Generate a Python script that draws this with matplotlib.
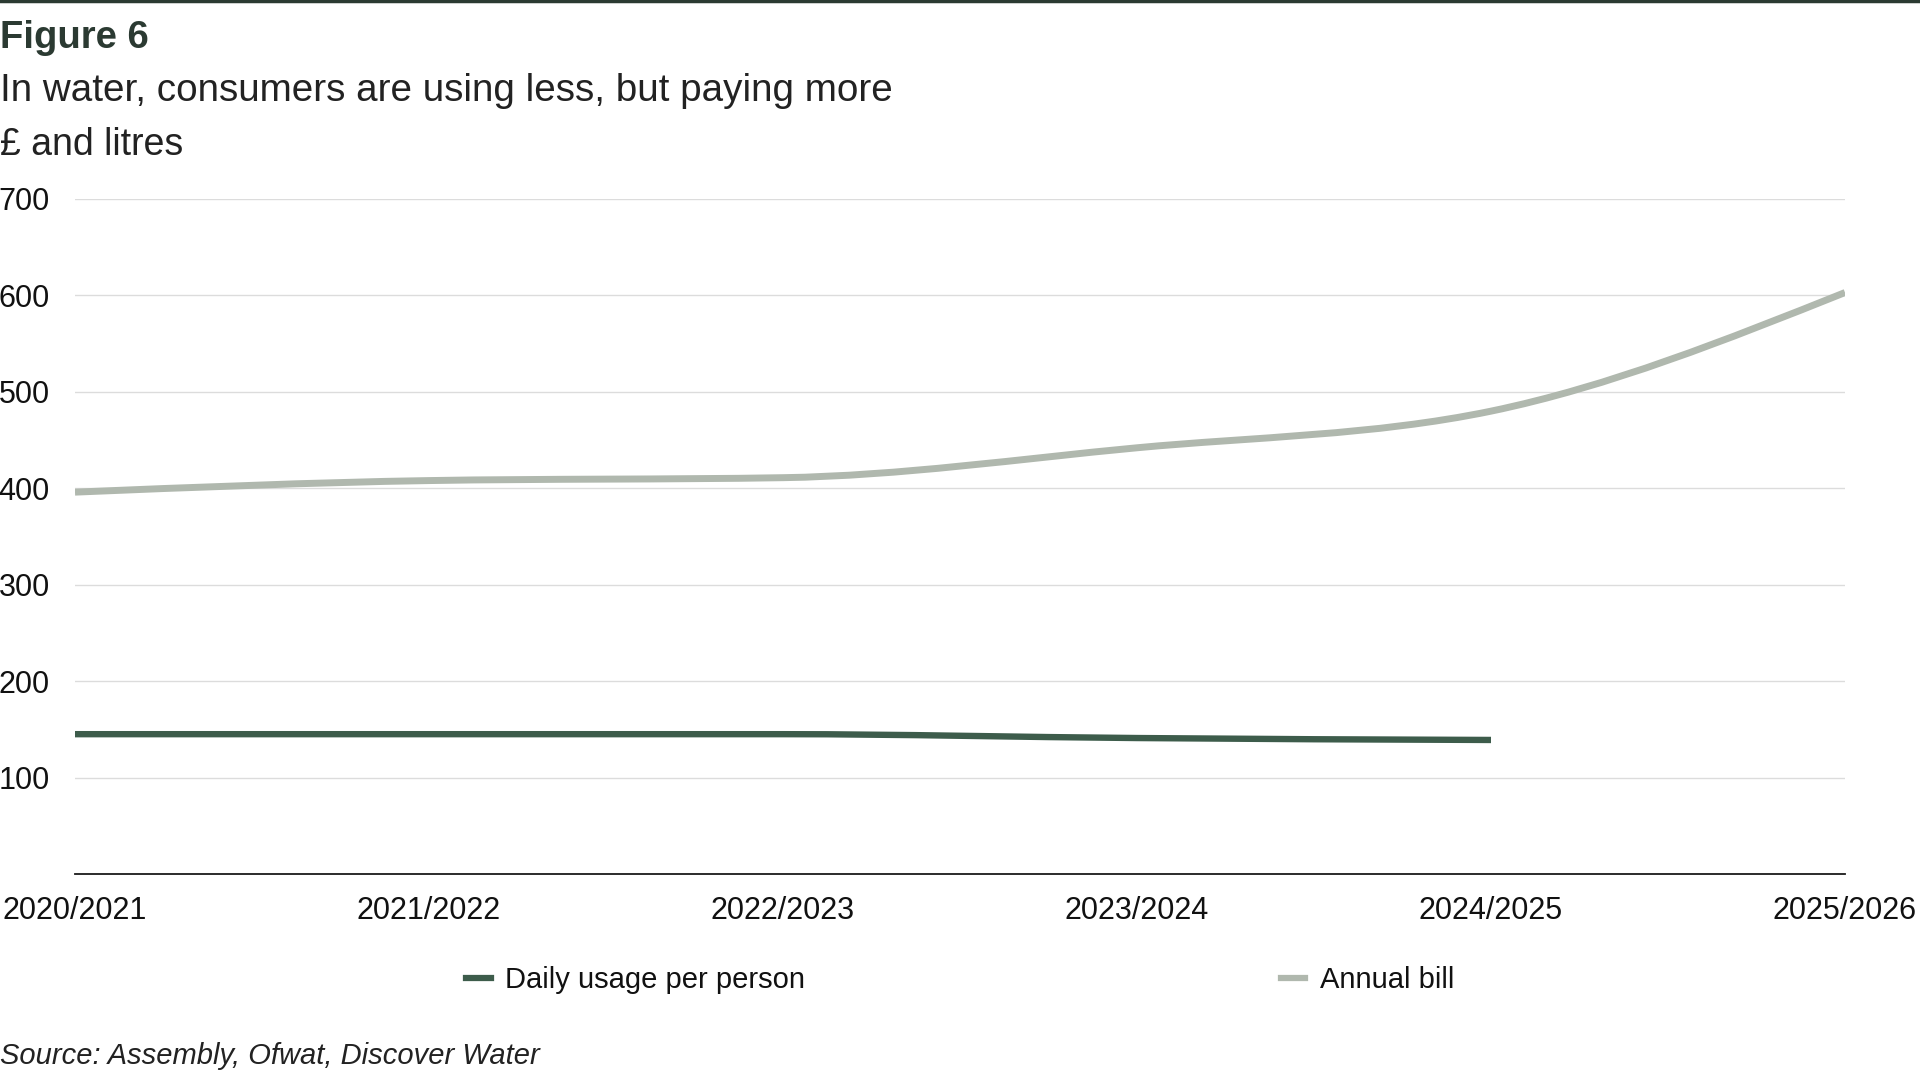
import numpy as np
import matplotlib
matplotlib.use("Agg")
import matplotlib.pyplot as plt
from matplotlib.path import Path
from matplotlib.patches import PathPatch
from matplotlib.lines import Line2D

plt.rcParams['font.family'] = ['Liberation Sans', 'DejaVu Sans']

# ---- data ----
years = ["2020/2021", "2021/2022", "2022/2023", "2023/2024", "2024/2025", "2025/2026"]
daily_usage = [145, 145, 145, 141, 139]          # litres per person per day
annual_bill = [396, 408, 411, 442, 480, 603]     # £
y_ticks = [100, 200, 300, 400, 500, 600, 700]

title = "Figure 6"
subtitle = "In water, consumers are using less, but paying more"
units = "£ and litres"
source = "Source: Assembly, Ofwat, Discover Water"

C_USAGE = "#3d5c4b"
C_BILL = "#b0b8ae"
C_DARK = "#2b3a32"
C_GRID = "#dcdcdc"


def monotone_path(xs, ys):
    """Cubic Bezier path equivalent to d3.curveMonotoneX through the points."""
    xs = np.asarray(xs, float)
    ys = np.asarray(ys, float)
    n = len(xs)
    t = np.zeros(n)
    for i in range(1, n - 1):
        h0 = xs[i] - xs[i - 1]
        h1 = xs[i + 1] - xs[i]
        s0 = (ys[i] - ys[i - 1]) / h0
        s1 = (ys[i + 1] - ys[i]) / h1
        p = (s0 * h1 + s1 * h0) / (h0 + h1)
        t[i] = (np.sign(s0) + np.sign(s1)) * min(abs(s0), abs(s1), 0.5 * abs(p))
    if n > 2:
        h = xs[1] - xs[0]
        t[0] = (3 * (ys[1] - ys[0]) / h - t[1]) / 2
        h = xs[-1] - xs[-2]
        t[-1] = (3 * (ys[-1] - ys[-2]) / h - t[-2]) / 2
    verts = [(xs[0], ys[0])]
    codes = [Path.MOVETO]
    for i in range(n - 1):
        dx = (xs[i + 1] - xs[i]) / 3
        verts += [(xs[i] + dx, ys[i] + dx * t[i]),
                  (xs[i + 1] - dx, ys[i + 1] - dx * t[i + 1]),
                  (xs[i + 1], ys[i + 1])]
        codes += [Path.CURVE4] * 3
    return Path(verts, codes)


fig = plt.figure(figsize=(19.2, 10.8), dpi=100)
ax = fig.add_axes([75 / 1920, 1 - 874 / 1080, 1770 / 1920, 675 / 1080])

x_all = np.arange(len(years))
ax.add_patch(PathPatch(monotone_path(x_all[:len(daily_usage)], daily_usage),
                       fill=False, edgecolor=C_USAGE, lw=4.6, capstyle='butt', zorder=3))
ax.add_patch(PathPatch(monotone_path(x_all, annual_bill),
                       fill=False, edgecolor=C_BILL, lw=5, capstyle='butt', zorder=3))

ax.set_xlim(0, len(years) - 1)
ax.set_ylim(0, 700)
ax.set_yticks(y_ticks)
ax.set_xticks(x_all)
ax.set_xticklabels(years)
ax.grid(axis='y', color=C_GRID, lw=1)
ax.set_axisbelow(True)
for s in ['top', 'right', 'left']:
    ax.spines[s].set_visible(False)
ax.spines['bottom'].set_color('#1a1a1a')
ax.spines['bottom'].set_linewidth(1.3)
ax.tick_params(axis='both', length=0, labelsize=22, colors='#111111')
ax.tick_params(axis='x', pad=16)
ax.tick_params(axis='y', pad=55)
for lab in ax.get_yticklabels():
    lab.set_horizontalalignment('left')

# legend
handles = [Line2D([], [], color=C_USAGE, lw=4.5),
           Line2D([], [], color=C_BILL, lw=4.5)]
fig.legend(handles, ["Daily usage per person", "Annual bill"],
           loc='center', bbox_to_anchor=(0.5, 1 - 980 / 1080), ncol=2,
           frameon=False, fontsize=21, handlelength=0.85, handletextpad=0.5,
           columnspacing=16.3, labelcolor='#111111')

# texts
fig.add_artist(Line2D([0, 1], [1 - 1 / 1080, 1 - 1 / 1080], color=C_DARK, lw=2.5,
                      transform=fig.transFigure))
fig.text(0.0, 1 - 38 / 1080, title, fontsize=27.5, fontweight='bold', color=C_DARK,
         ha='left', va='center')
fig.text(0.0, 1 - 91 / 1080, subtitle, fontsize=27.8, color='#222222',
         ha='left', va='center')
fig.text(0.0, 1 - 145 / 1080, units, fontsize=27, color='#222222',
         ha='left', va='center')
fig.text(0.0, 1 - 1056 / 1080, source, fontsize=21, style='italic', color='#222222',
         ha='left', va='center')

fig.savefig("out.png", dpi=100)
